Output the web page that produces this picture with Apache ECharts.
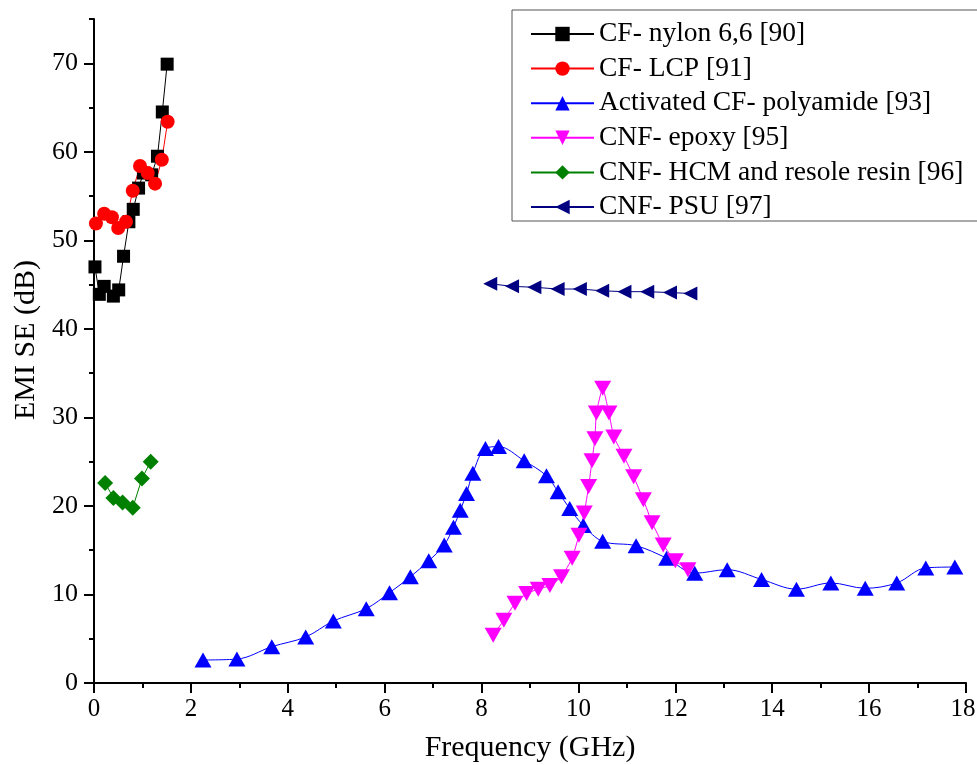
<!DOCTYPE html>
<html>
<head>
<meta charset="utf-8">
<script src="https://cdn.jsdelivr.net/npm/echarts@6/dist/echarts.min.js"></script>
<style>
html,body{margin:0;padding:0;background:#fff;}
#c{width:977px;height:765px;}
</style>
</head>
<body>
<div id="c"></div>
<script>
// ---- data ----
const seriesNames = ['CF- nylon 6,6 [90]', 'CF- LCP [91]', 'Activated CF- polyamide [93]', 'CNF- epoxy [95]', 'CNF- HCM and resole resin [96]', 'CNF- PSU [97]'];

const nylonX = [0.02, 0.11, 0.21, 0.40, 0.51, 0.61, 0.72, 0.81, 0.92, 1.02, 1.19, 1.31, 1.41, 1.51];
const nylonY = [47.0, 43.9, 44.8, 43.7, 44.4, 48.2, 52.1, 53.5, 55.9, 57.6, 57.4, 59.5, 64.5, 69.9];

const lcpX = [0.04, 0.21, 0.37, 0.50, 0.66, 0.80, 0.95, 1.11, 1.26, 1.40, 1.52];
const lcpY = [51.9, 53.0, 52.6, 51.4, 52.1, 55.6, 58.4, 57.6, 56.4, 59.1, 63.4];

const polyX = [2.25, 2.95, 3.67, 4.37, 4.94, 5.62, 6.10, 6.53, 6.91, 7.23, 7.42, 7.56, 7.69, 7.82, 8.08, 8.35, 8.88, 9.34, 9.58, 9.82, 10.10, 10.50, 11.19, 11.82, 12.40, 13.07, 13.78, 14.50, 15.21, 15.92, 16.57, 17.17, 17.77];
const polyY = [2.6, 2.7, 4.1, 5.2, 7.0, 8.4, 10.2, 12.0, 13.8, 15.6, 17.6, 19.5, 21.4, 23.7, 26.5, 26.7, 25.1, 23.4, 21.6, 19.7, 17.8, 16.0, 15.5, 14.1, 12.4, 12.8, 11.7, 10.6, 11.3, 10.7, 11.3, 13.0, 13.1];

const epoxyX = [8.24, 8.46, 8.69, 8.93, 9.17, 9.41, 9.65, 9.87, 10.01, 10.12, 10.21, 10.28, 10.34, 10.37, 10.50, 10.63, 10.73, 10.94, 11.14, 11.34, 11.52, 11.75, 12.00, 12.26];
const epoxyY = [5.4, 7.1, 9.0, 10.1, 10.6, 11.0, 12.0, 14.1, 16.7, 19.2, 22.2, 25.1, 27.6, 30.5, 33.3, 30.5, 27.8, 25.6, 23.3, 20.7, 18.1, 15.6, 13.8, 12.8];

const hcmX = [0.23, 0.40, 0.59, 0.80, 0.99, 1.17];
const hcmY = [22.6, 20.9, 20.4, 19.8, 23.1, 25.0];

const psuX = [8.18, 8.63, 9.09, 9.57, 10.03, 10.49, 10.95, 11.42, 11.89, 12.31];
const psuY = [45.1, 44.8, 44.7, 44.5, 44.5, 44.3, 44.2, 44.2, 44.1, 44.0];

const xTicks = [0, 2, 4, 6, 8, 10, 12, 14, 16, 18];
const yTicks = [0, 10, 20, 30, 40, 50, 60, 70];
const yMinorTicks = [5, 15, 25, 35, 45, 55, 65, 75];

// ---- chart ----
const pairs = (xs, ys) => xs.map((x, i) => [x, ys[i]]);
const FONT = 'Liberation Serif';

const chart = echarts.init(document.getElementById('c'), null, { renderer: 'canvas' });

function mk(name, xs, ys, color, symbol, size, rotate, smooth) {
  return {
    name: name, type: 'line', xAxisIndex: 0, yAxisIndex: 0,
    data: pairs(xs, ys),
    symbol: symbol, symbolSize: size, symbolRotate: rotate || 0,
    smooth: smooth || false,
    showAllSymbol: true,
    lineStyle: { color: color, width: 1 },
    itemStyle: { color: color, opacity: 1 },
    emphasis: { disabled: true },
    animation: false
  };
}

const xMax = xTicks[xTicks.length - 1];

const option = {
  animation: false,
  backgroundColor: '#ffffff',
  grid: { left: 94, right: 11, top: 19, bottom: 82, containLabel: false, outerBoundsMode: 'none' },
  legend: {
    orient: 'vertical',
    left: 512, top: 10,
    padding: [10, 40, 0, 18],
    borderColor: '#555555', borderWidth: 1,
    itemWidth: 63, itemHeight: 18, itemGap: 6.6,
    textStyle: { fontFamily: FONT, fontSize: 27.5, color: '#000', lineHeight: 28 },
    data: seriesNames
  },
  xAxis: {
    type: 'value', min: 0, max: xMax, interval: 2,
    name: 'Frequency (GHz)', nameLocation: 'middle', nameGap: 50,
    nameTextStyle: { fontFamily: FONT, fontSize: 30, color: '#000' },
    axisLine: { show: true, onZero: false, lineStyle: { color: '#000', width: 2 } },
    axisTick: { show: true, inside: false, length: 10, lineStyle: { color: '#000', width: 2 } },
    minorTick: { show: true, splitNumber: 2, length: 5, lineStyle: { color: '#000', width: 2 } },
    axisLabel: {
      fontFamily: FONT, fontSize: 25, color: '#000', margin: 14,
      formatter: function (v) { return v === xMax ? '{m|' + v + '}' : String(v); },
      rich: { m: { fontFamily: FONT, fontSize: 25, color: '#000', padding: [0, 6, 0, 0] } }
    },
    splitLine: { show: false }
  },
  yAxis: [{
    type: 'value', min: 0, max: 75, interval: 10,
    name: 'EMI SE (dB)', nameLocation: 'middle', nameGap: 50,
    nameTextStyle: { fontFamily: FONT, fontSize: 30, color: '#000', padding: [0, 0, 0, 22] },
    axisLine: { show: true, onZero: false, lineStyle: { color: '#000', width: 2 } },
    axisTick: { show: true, inside: false, length: 10, customValues: yTicks, lineStyle: { color: '#000', width: 2 } },
    axisLabel: { fontFamily: FONT, fontSize: 26, color: '#000', margin: 16, customValues: yTicks },
    splitLine: { show: false }
  }, {
    type: 'value', min: 0, max: 75, position: 'left',
    axisLine: { show: false },
    axisTick: { show: true, inside: false, length: 5, customValues: yMinorTicks, lineStyle: { color: '#000', width: 2 } },
    axisLabel: { show: false },
    splitLine: { show: false }
  }],
  series: [
    mk(seriesNames[0], nylonX, nylonY, '#000000', 'rect', 13),
    mk(seriesNames[1], lcpX, lcpY, '#ff0000', 'circle', 14),
    mk(seriesNames[2], polyX, polyY, '#0000ff', 'triangle', [17, 15], 0, 0.35),
    mk(seriesNames[3], epoxyX, epoxyY, '#ff00ff', 'triangle', [17, 15], 180, 0.15),
    mk(seriesNames[4], hcmX, hcmY, '#008000', 'diamond', [16, 16]),
    mk(seriesNames[5], psuX, psuY, '#000080', 'triangle', [14, 14], 90)
  ]
};
chart.setOption(option);
</script>
</body>
</html>
